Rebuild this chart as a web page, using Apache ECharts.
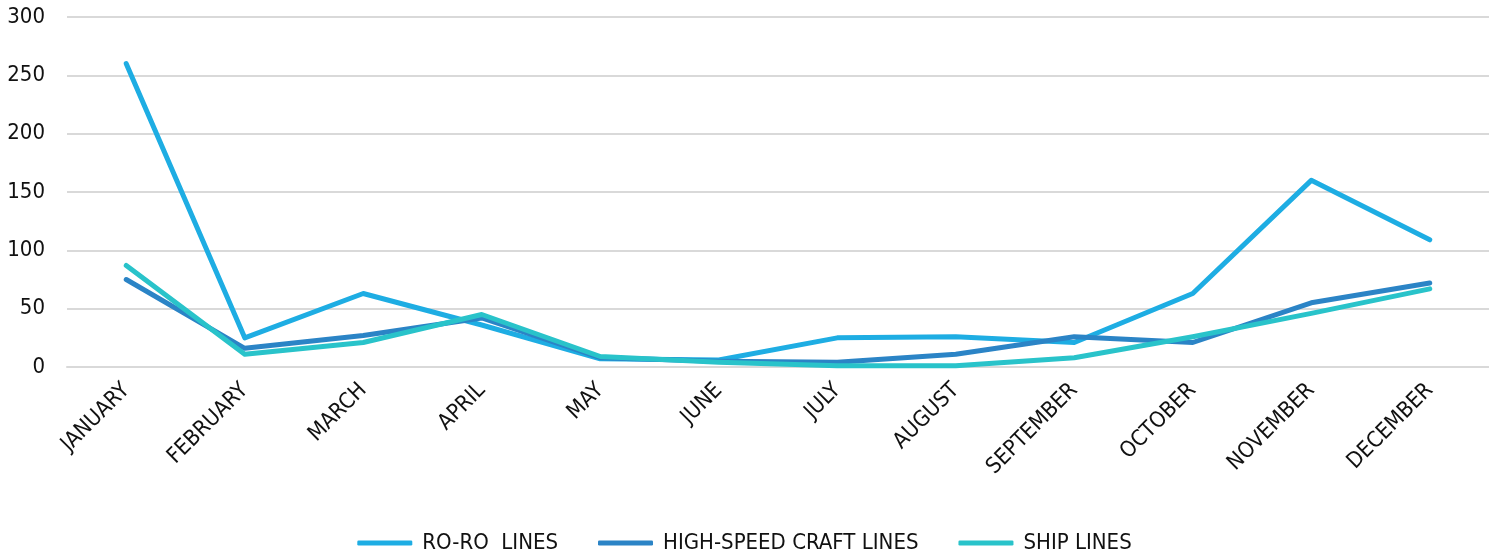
<!DOCTYPE html>
<html>
<head>
<meta charset="utf-8">
<script src="https://cdn.jsdelivr.net/npm/echarts@6/dist/echarts.min.js"></script>
<style>
html,body{margin:0;padding:0;background:#fff;}
#chart{width:1489px;height:555px;}
</style>
</head>
<body>
<div id="chart"></div>
<script>
const categories = ['JANUARY','FEBRUARY','MARCH','APRIL','MAY','JUNE','JULY','AUGUST','SEPTEMBER','OCTOBER','NOVEMBER','DECEMBER'];
const roroLines = [260, 25, 63, 36, 7, 6, 25, 26, 21, 63, 160, 109];
const highSpeedCraftLines = [75, 16, 27, 42, 8, 5, 4, 11, 26, 21, 55, 72];
const shipLines = [87, 11, 21, 45, 9, 4, 1, 1, 8, 26, 46, 67];
const seriesNames = ['RO-RO  LINES', 'HIGH-SPEED CRAFT LINES', 'SHIP LINES'];
const yTicks = [0, 50, 100, 150, 200, 250, 300];

const FONT = "'DejaVu Sans Condensed', 'Liberation Sans Narrow', sans-serif";
const colors = ['#1eade3', '#2b84c6', '#29c3ca'];

const chart = echarts.init(document.getElementById('chart'), null, {renderer: 'canvas'});
function mk(name, data, color) {
  return {
    name: name, type: 'line', data: data, showSymbol: false, symbol: 'none',
    lineStyle: {width: 5, color: color, cap: 'round', join: 'round'},
    itemStyle: {color: color}
  };
}
chart.setOption({
  animation: false,
  color: colors,
  grid: {left: 67, right: -7, top: 17, bottom: 188, containLabel: false},
  xAxis: {
    type: 'category', data: categories, boundaryGap: true,
    axisLine: {show: true, lineStyle: {color: '#d9d9d9', width: 2}},
    axisTick: {show: false},
    axisLabel: {rotate: 45, margin: 20, fontFamily: FONT, fontSize: 22, color: '#111', interval: 0}
  },
  yAxis: {
    type: 'value', min: yTicks[0], max: yTicks[yTicks.length - 1], interval: 50,
    axisLine: {show: false}, axisTick: {show: false},
    splitLine: {lineStyle: {color: '#d9d9d9', width: 2}},
    axisLabel: {margin: 22, fontFamily: FONT, fontSize: 22, color: '#111'}
  },
  legend: {
    bottom: -4, left: 'center',
    itemWidth: 55, itemHeight: 5, itemGap: 40,
    icon: 'roundRect',
    textStyle: {fontFamily: FONT, fontSize: 22, color: '#111', padding: [0, 0, 0, 5]},
    data: seriesNames
  },
  series: [
    mk(seriesNames[0], roroLines, colors[0]),
    mk(seriesNames[1], highSpeedCraftLines, colors[1]),
    mk(seriesNames[2], shipLines, colors[2])
  ]
});
</script>
</body>
</html>
